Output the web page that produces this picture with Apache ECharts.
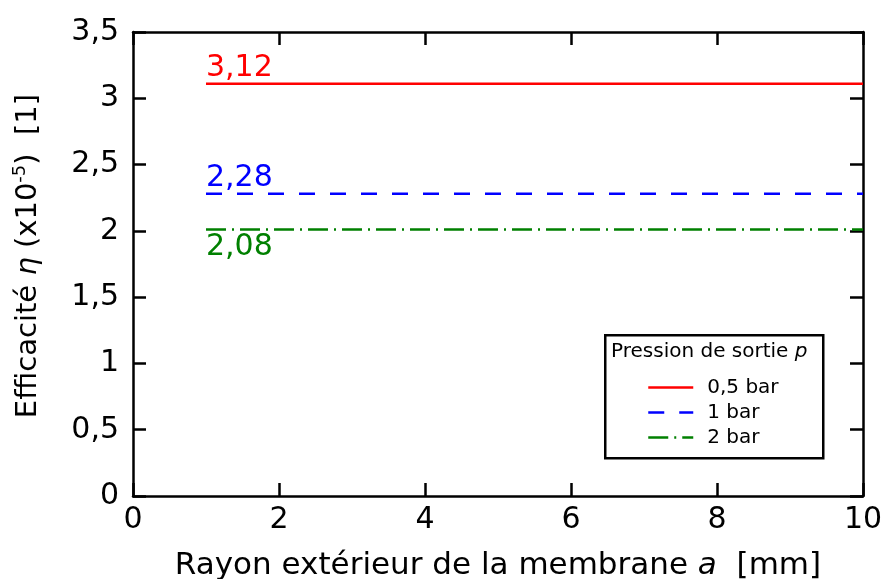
<!DOCTYPE html>
<html>
<head>
<meta charset="utf-8">
<script src="https://cdn.jsdelivr.net/npm/echarts@6/dist/echarts.min.js"></script>
<style>html,body{margin:0;padding:0;background:#fff;}#c{width:885px;height:579px;}</style>
</head>
<body>
<div id="c"></div>
<script>
// ---- data ----
var seriesNames = ['0,5 bar', '1 bar', '2 bar'];
var xStart = [1, 1, 1];
var xEnd = [10, 10, 10];
var effValues = [3.11, 2.28, 2.01];
var annotations = ['3,12', '2,28', '2,08'];
var xTicks = [0, 2, 4, 6, 8, 10];
var yTicks = [0, 0.5, 1, 1.5, 2, 2.5, 3, 3.5];

var colors = ['#ff0000', '#0000ff', '#008000'];
var dashes = ['solid', [16, 15], [20, 6, 2, 6]];
var labelPos = ['top', 'top', 'bottom'];
var labelDist = [0.5, 0.5, 3];
var FONT = 'DejaVu Sans';

var chart = echarts.init(document.getElementById('c'), null, {renderer: 'canvas'});

function fmt(v) { return String(v).replace('.', ','); }

var series = seriesNames.map(function (name, i) {
  return {
    name: name,
    type: 'line',
    xAxisIndex: 0,
    yAxisIndex: 0,
    symbol: 'none',
    showSymbol: false,
    animation: false,
    lineStyle: {color: colors[i], width: 2.5, type: dashes[i]},
    itemStyle: {color: colors[i]},
    data: [[xStart[i], effValues[i]], [xEnd[i], effValues[i]]],
    markPoint: {
      silent: true,
      animation: false,
      symbol: 'circle',
      symbolSize: 0,
      data: [{
        coord: [xStart[i], effValues[i]],
        label: {
          show: true,
          formatter: annotations[i],
          position: labelPos[i],
          align: 'left',
          distance: labelDist[i],
          color: colors[i],
          fontFamily: FONT,
          fontSize: 30,
          lineHeight: 30
        }
      }]
    }
  };
});

var axisCommon = {
  axisLine: {show: true, onZero: false, lineStyle: {color: '#000', width: 2.5}},
  axisTick: {show: true, inside: true, length: 13, lineStyle: {color: '#000', width: 2.5}},
  splitLine: {show: false}
};

var option = {
  animation: false,
  backgroundColor: '#fff',
  grid: {left: 133, right: 22, top: 32, bottom: 83, containLabel: false, outerBoundsMode: 'none'},
  xAxis: [
    Object.assign({
      type: 'value', min: 0, max: 10, interval: 2, position: 'bottom',
      name: 'Rayon extérieur de la membrane {i|a}  [mm]',
      nameLocation: 'middle', nameGap: 54,
      nameTextStyle: {fontFamily: FONT, fontSize: 31, color: '#000',
        rich: {i: {fontFamily: FONT, fontSize: 31, fontStyle: 'italic', color: '#000'}}},
      axisLabel: {fontFamily: FONT, fontSize: 30, color: '#000', margin: 9, formatter: fmt}
    }, axisCommon),
    Object.assign({
      type: 'value', min: 0, max: 10, interval: 2, position: 'top',
      axisLabel: {show: false}
    }, axisCommon)
  ],
  yAxis: [
    Object.assign({
      type: 'value', min: 0, max: 3.5, interval: 0.5, position: 'left',
      name: '{a|Efficacité }{i|η}{a| (x10}{s|-5}{a|)  [1]}',
      nameLocation: 'middle', nameGap: 88, nameRotate: 90,
      nameTextStyle: {fontFamily: FONT, fontSize: 29, color: '#000', padding: [0, 0, 0, 16],
        rich: {
          a: {fontFamily: FONT, fontSize: 29, color: '#000', lineHeight: 34},
          i: {fontFamily: FONT, fontSize: 29, fontStyle: 'italic', color: '#000', lineHeight: 34},
          s: {fontFamily: FONT, fontSize: 18, color: '#000', verticalAlign: 'top', lineHeight: 18}
        }},
      axisLabel: {fontFamily: FONT, fontSize: 30, color: '#000', margin: 14, padding: [0, 0, 10, 0], formatter: fmt}
    }, axisCommon),
    Object.assign({
      type: 'value', min: 0, max: 3.5, interval: 0.5, position: 'right',
      axisLabel: {show: false}
    }, axisCommon)
  ],
  legend: {
    show: true,
    data: seriesNames,
    orient: 'vertical',
    left: 647, top: 377,
    padding: 0,
    itemWidth: 45, itemHeight: 21, itemGap: 4,
    itemStyle: {opacity: 0, borderWidth: 0},
    lineStyle: {width: 2.5},
    textStyle: {fontFamily: FONT, fontSize: 20, color: '#000', padding: [0, 0, 0, 9], lineHeight: 21}
  },
  graphic: [
    {type: 'rect', left: 604, top: 334, z: 0,
      shape: {width: 218, height: 123},
      style: {fill: '#fff', stroke: '#000', lineWidth: 2.5}},
    {type: 'text', left: 611, top: 342, z: 1,
      style: {text: 'Pression de sortie {i|p}', fontFamily: FONT, fontSize: 20, fill: '#000',
        rich: {i: {fontFamily: FONT, fontSize: 20, fontStyle: 'italic', fill: '#000'}}}}
  ],
  series: series
};

chart.setOption(option);
</script>
</body>
</html>
